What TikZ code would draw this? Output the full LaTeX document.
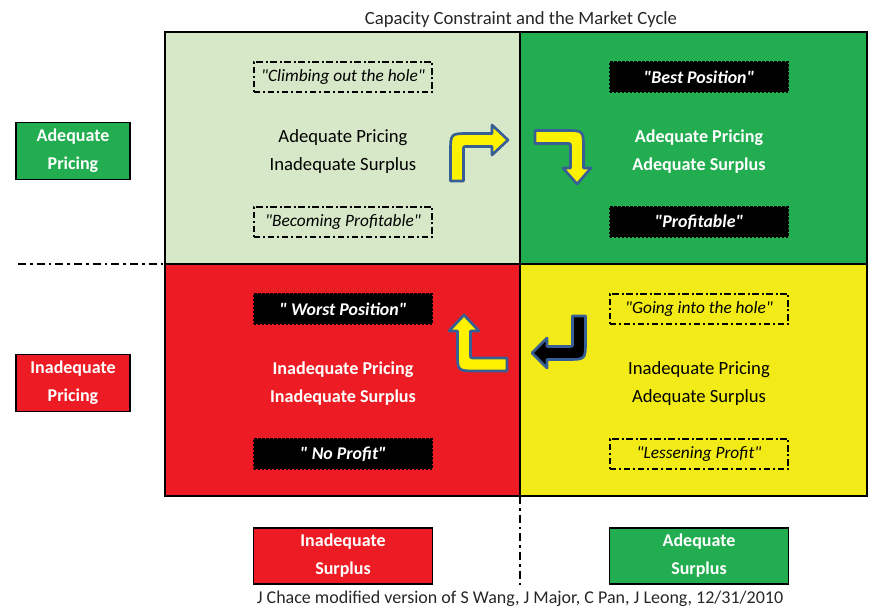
\documentclass[tikz,border=0pt]{standalone}
\usepackage{fontspec}
\setmainfont{Carlito}[Ligatures=TeXOff]
\usepackage{tikz}
\usetikzlibrary{calc}

\definecolor{palegreen}{RGB}{214,232,200}
\definecolor{goodgreen}{RGB}{34,174,80}
\definecolor{badred}{RGB}{237,28,36}
\definecolor{warnyellow}{RGB}{242,235,23}
\definecolor{arrowblue}{RGB}{55,95,150}

\begin{document}
\begin{tikzpicture}[x=0.75pt, y=-0.75pt,
	tagbox/.style={draw=black, line width=1.7pt, dash pattern=on 5pt off 2pt on 1.5pt off 2pt,
		minimum width=134pt, minimum height=22.5pt, inner sep=0pt,
		font=\itshape\fontsize{13}{15}\selectfont},
	blackbox/.style={fill=black, draw=black, line width=1pt, dash pattern=on 2pt off 1pt,
		minimum width=134pt, minimum height=22.5pt, inner sep=0pt, text=white,
		font=\bfseries\itshape\fontsize{13.4}{15}\selectfont},
	state/.style={align=center, font=\fontsize{14}{21}\selectfont},
	boldstate/.style={align=center, text=white, font=\bfseries\fontsize{13.6}{21}\selectfont},
	axisbox/.style={draw=black, line width=1.2pt, align=center, text=white, inner sep=0pt,
		font=\bfseries\fontsize{13.5}{21}\selectfont},
	bentarrow/.style={draw=arrowblue, line width=2pt, line join=round},
	axisline/.style={line width=1.6pt, dash pattern=on 6pt off 3pt on 2pt off 3pt}]
\useasboundingbox (0,0) rectangle (869,609);

% quadrants
\coordinate (nw) at (165,32);
\coordinate (mid) at (520,264);
\coordinate (se) at (867,496);
\fill[palegreen] (nw) rectangle (mid);
\fill[goodgreen] (mid |- nw) rectangle (se |- mid);
\fill[badred] (nw |- mid) rectangle (mid |- se);
\fill[warnyellow] (mid) rectangle (se);
\draw[line width=1.2pt] (mid |- nw) -- (mid |- se);
\draw[line width=1.2pt] (nw |- mid) -- (se |- mid);
\draw[line width=1.6pt] (nw) rectangle (se);

% axis lines
\coordinate (hstart) at (18,264);
\coordinate (vend) at (520,588);
\draw[axisline] (hstart) -- (nw |- mid);
\draw[axisline] (mid |- se) -- (vend);

% title and footer
\node[font=\fontsize{14}{16}\selectfont, text=black!85] (title) at (521,20) {Capacity Constraint and the Market Cycle};
\node[font=\fontsize{13.5}{16}\selectfont, text=black!85] (credit) at (520,599) {J Chace modified version of S Wang, J Major, C Pan, J Leong, 12/31/2010};

% axis boxes
\node[axisbox, fill=goodgreen, minimum width=85.5pt, minimum height=42.75pt] (adqprice) at (73,151) {Adequate\\Pricing};
\node[axisbox, fill=badred, minimum width=85.5pt, minimum height=42.75pt] (inadqprice) at (73,383) {Inadequate\\Pricing};
\node[axisbox, fill=badred, minimum width=134.25pt, minimum height=42pt] (inadqsurp) at (343,556) {Inadequate\\Surplus};
\node[axisbox, fill=goodgreen, minimum width=134.25pt, minimum height=42pt] (adqsurp) at (699,556) {Adequate\\Surplus};

% top left
\node[tagbox] (climb) at (343,77) {"Climbing out the hole"};
\node[state] (tlstate) at (343,152) {Adequate Pricing\\Inadequate Surplus};
\node[tagbox] (becoming) at (343,222) {"Becoming Profitable"};

% top right
\node[blackbox] (best) at (699,77) {"Best Position"};
\node[boldstate] (trstate) at (699,152) {Adequate Pricing\\Adequate Surplus};
\node[blackbox] (profitable) at (699,222) {"Profitable"};

% bottom left
\node[blackbox] (worst) at (343,309) {" Worst Position"};
\node[boldstate] (blstate) at (343,384) {Inadequate Pricing\\Inadequate Surplus};
\node[blackbox] (noprofit) at (343,454) {" No Profit"};

% bottom right
\node[tagbox] (going) at (699,309) {"Going into the hole"};
\node[state] (brstate) at (699,384) {Inadequate Pricing\\Adequate Surplus};
\node[tagbox] (lessening) at (699,454) {"Lessening Profit"};

% cycle arrows
\filldraw[bentarrow, fill=yellow] (450.5,181) -- (450.5,152) .. controls (450.5,133.5) .. (469,133.5)
	-- (492,133.5) -- (492,125) -- (508,140) -- (492,155) -- (492,146.5) -- (467,146.5)
	.. controls (463.5,146.5) .. (463.5,150) -- (463.5,181) -- cycle;
\filldraw[bentarrow, fill=yellow] (535,130.5) -- (565,130.5) .. controls (583.5,130.5) .. (583.5,149)
	-- (583.5,168) -- (591,168) -- (577,184) -- (563,168) -- (570.5,168) -- (570.5,147)
	.. controls (570.5,143.5) .. (567,143.5) -- (535,143.5) -- cycle;
\filldraw[bentarrow, fill=black] (572.5,316) -- (585.5,316) -- (585.5,341) .. controls (585.5,359.5) .. (567,359.5)
	-- (547,359.5) -- (547,368) -- (532,353) -- (547,338) -- (547,346.5) -- (569,346.5)
	.. controls (572.5,346.5) .. (572.5,343) -- cycle;
\filldraw[bentarrow, fill=yellow] (507,371) -- (476,371) .. controls (457.5,371) .. (457.5,352.5)
	-- (457.5,331) -- (449,331) -- (464,315) -- (479,331) -- (470.5,331) -- (470.5,354.5)
	.. controls (470.5,358) .. (474,358) -- (507,358) -- cycle;
\end{tikzpicture}
\end{document}
